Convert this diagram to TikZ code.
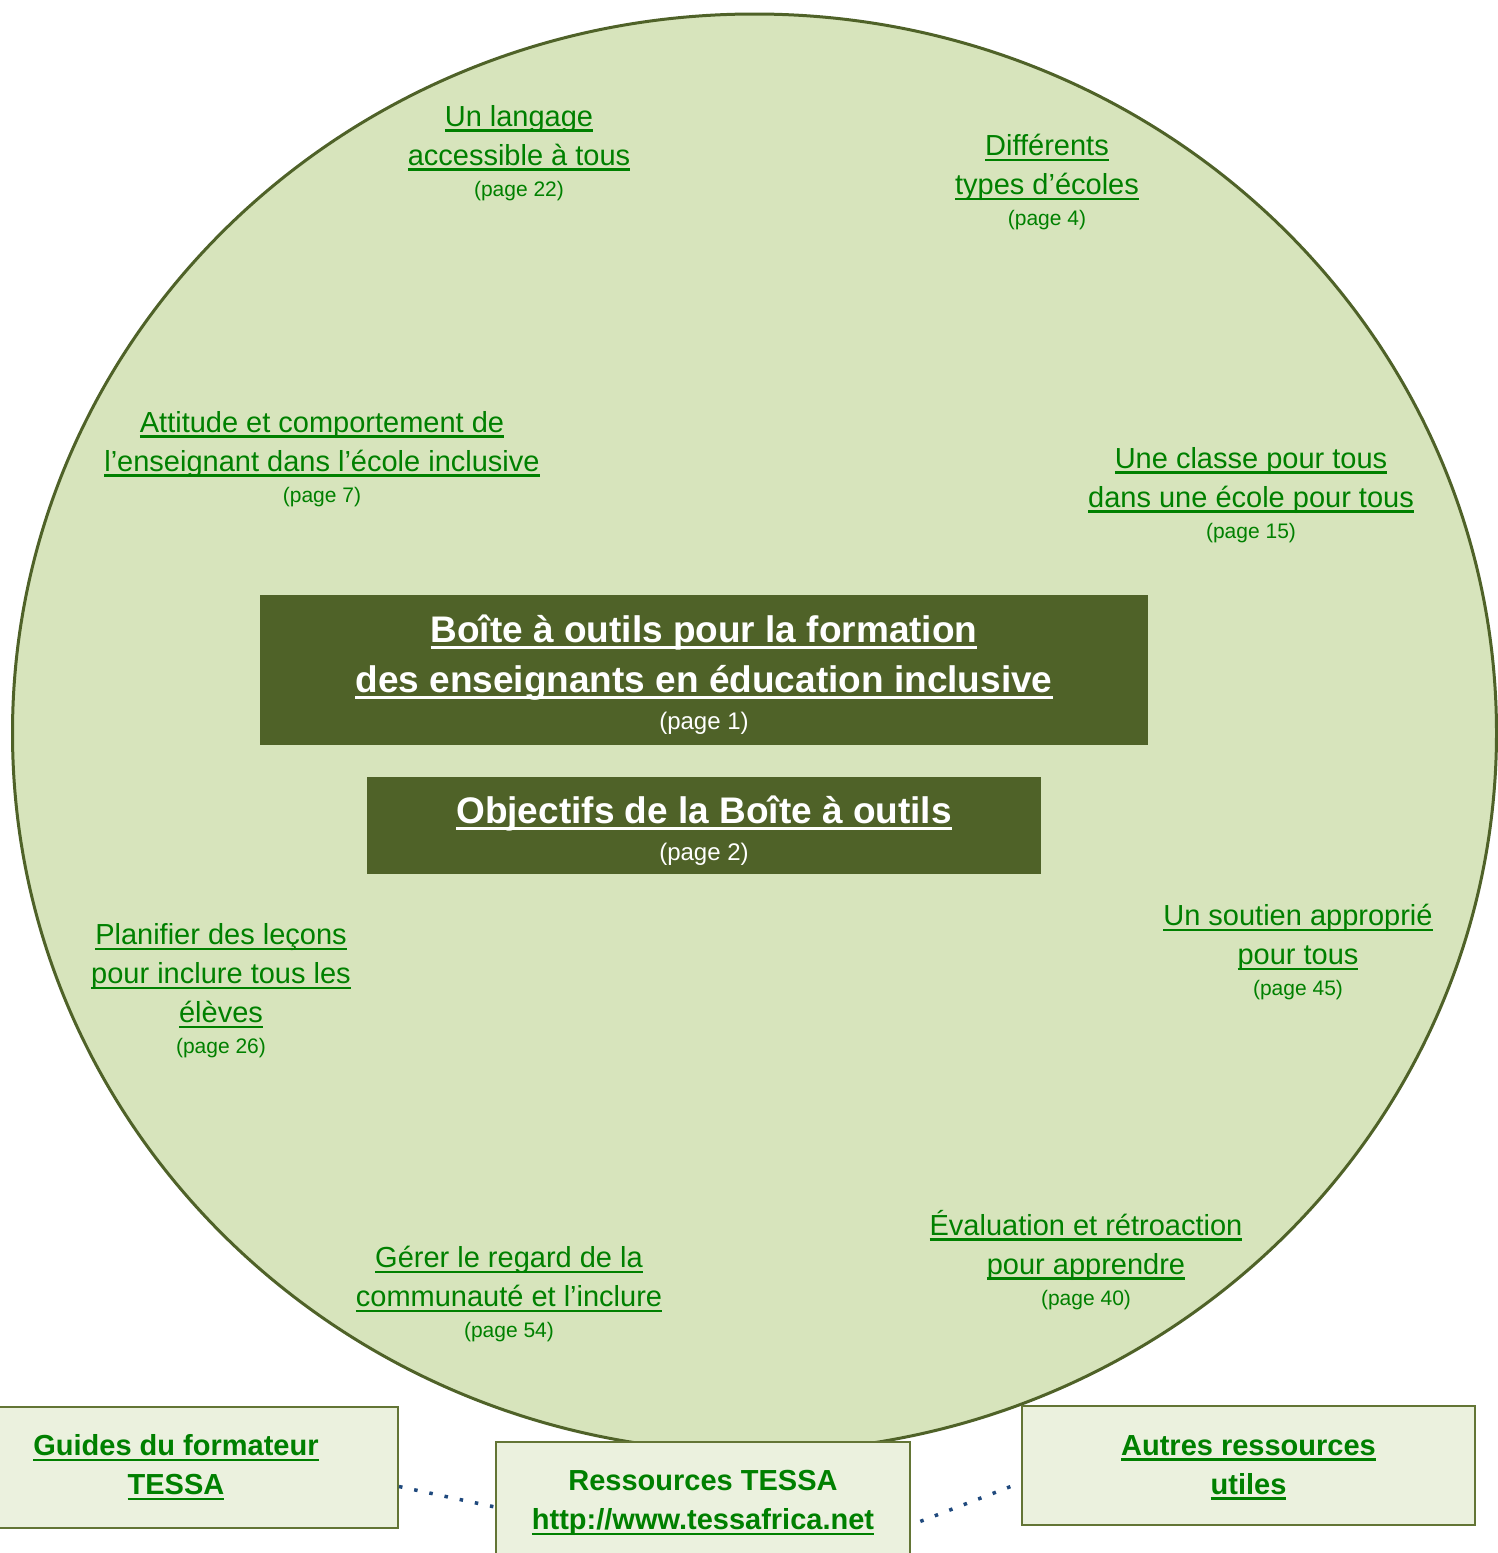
\documentclass[tikz,border=0pt]{standalone}
\usepackage{fontspec}
\setmainfont{Liberation Sans}
\definecolor{circfill}{HTML}{D7E4BC}
\definecolor{olive}{HTML}{4F6228}
\definecolor{boxfill}{HTML}{EBF1DE}
\definecolor{boxline}{HTML}{637535}
\definecolor{linkgreen}{HTML}{008000}
\definecolor{dotblue}{HTML}{1F497D}
\newsavebox\ulbx
\newcommand\uln[1]{\sbox\ulbx{#1}\rlap{\rule[-0.18em]{\wd\ulbx}{0.075em}}\usebox\ulbx}
\newcommand\pg[1]{{\fontsize{21}{25}\selectfont(page #1)}}
\newcommand\pgw[1]{{\mdseries\fontsize{24}{28}\selectfont(page #1)}}
\begin{document}
\begin{tikzpicture}[x=1pt,y=-1pt,
  circ/.style={draw=olive,line width=3pt,fill=circfill},
  lbl/.style={text=linkgreen,align=center,inner sep=0pt,font=\fontsize{29}{39}\selectfont},
  titlebox/.style={fill=olive,text=white,align=center,inner sep=0pt,font=\bfseries\fontsize{37}{50}\selectfont},
  resbox/.style={draw=boxline,line width=2pt,fill=boxfill,text=linkgreen,align=center,inner sep=0pt,font=\bfseries\fontsize{29}{39}\selectfont},
  dotline/.style={draw=dotblue,line width=3.5pt,dash pattern=on 3.5pt off 12pt}]
\useasboundingbox (0,0) rectangle (1498,1553);
\fill[white] (0,0) rectangle (1498,1553);
\draw[circ] (754.5,733) ellipse [x radius=742, y radius=719];

\node[titlebox,minimum width=888pt,minimum height=150pt] (title) at (704,670)
  {\rule{0pt}{36pt}\uln{Boîte à outils pour la formation}\\\uln{des enseignants en éducation inclusive}\\[-13pt]\pgw{1}};
\node[titlebox,minimum width=674pt,minimum height=97pt] (obj) at (704,825.5)
  {\rule{0pt}{37pt}\uln{Objectifs de la Boîte à outils}\\[-13pt]\pgw{2}};

\node[lbl] (l1) at (519,153) {\uln{Un langage}\\\uln{accessible à tous}\\[-8pt]\pg{22}};
\node[lbl] (l2) at (1047,182) {\uln{Différents}\\\uln{types d’écoles}\\[-8pt]\pg{4}};
\node[lbl] (l3) at (322,459) {\uln{Attitude et comportement de}\\\uln{l’enseignant dans l’école inclusive}\\[-8pt]\pg{7}};
\node[lbl] (l4) at (1251,495) {\uln{Une classe pour tous}\\\uln{dans une école pour tous}\\[-8pt]\pg{15}};
\node[lbl] (l5) at (221,991) {\uln{Planifier des leçons}\\\uln{pour inclure tous les}\\\uln{élèves}\\[-8pt]\pg{26}};
\node[lbl] (l6) at (1298,952) {\uln{Un soutien approprié}\\\uln{pour tous}\\[-8pt]\pg{45}};
\node[lbl] (l7) at (509,1294) {\uln{Gérer le regard de la}\\\uln{communauté et l’inclure}\\[-8pt]\pg{54}};
\node[lbl] (l8) at (1086,1260) {\uln{Évaluation et rétroaction}\\\uln{pour apprendre}\\[-8pt]\pg{40}};

\node[resbox,minimum width=444pt,minimum height=121pt] (guides) at (176,1467.5)
  {\uln{Guides du formateur}\\\uln{TESSA}};
\node[resbox,minimum width=414pt,minimum height=122pt] (res) at (703,1503)
  {Ressources TESSA\\\uln{http://www.tessafrica.net}};
\node[resbox,minimum width=453pt,minimum height=119pt] (autres) at (1248.5,1465.5)
  {\rule{0pt}{24pt}\uln{Autres ressources}\\\uln{utiles}};

\draw[dotline] ([yshift=-19pt]guides.east) -- ([yshift=-4pt]res.west);
\draw[dotline,dash phase=-10pt] ([yshift=-22pt]res.east) -- ([yshift=-17pt]autres.west);
\end{tikzpicture}
\end{document}
